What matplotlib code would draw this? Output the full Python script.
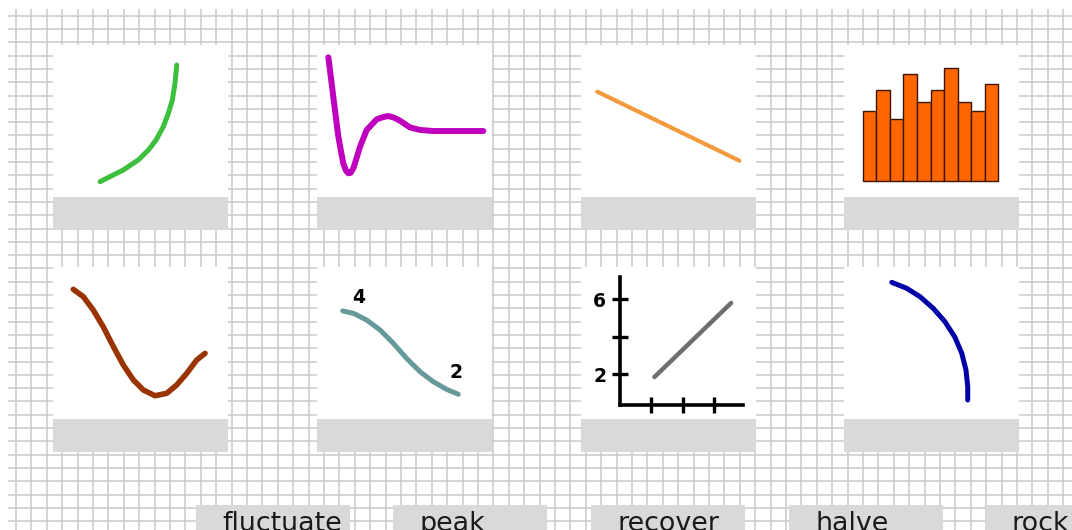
import matplotlib
matplotlib.use("Agg")
import matplotlib.pyplot as plt
import numpy as np
from matplotlib.patches import Rectangle

# ---------------- data ----------------
button_labels = ["fluctuate", "peak", "recover", "halve", "rock"]

# tile 1: green rising curve (tile units 0..10)
green_x = [2.69, 3.26, 4.02, 4.87, 5.45, 5.89, 6.30, 6.59, 6.82, 6.97, 7.07]
green_y = [1.01, 1.34, 1.78, 2.43, 3.09, 3.75, 4.62, 5.50, 6.38, 7.48, 8.68]

# tile 2: magenta damped oscillation
magenta_x = [0.65, 0.93, 1.22, 1.50, 1.66, 1.79, 1.93, 2.08, 2.46, 2.84, 3.41, 3.79,
             4.07, 4.40, 4.74, 5.31, 5.89, 6.65, 9.50]
magenta_y = [9.19, 6.60, 3.97, 2.21, 1.73, 1.56, 1.60, 1.89, 3.31, 4.41, 5.11, 5.26,
             5.33, 5.22, 5.02, 4.58, 4.41, 4.34, 4.34]

# tile 3: orange straight line
orange_x = [0.93, 9.05]
orange_y = [6.93, 2.39]

# tile 4: bar heights
bar_values = [70, 91, 62, 107, 79, 91, 113, 79, 70, 97]

# tile 5: brown dip curve
brown_x = [1.16, 1.73, 2.30, 2.87, 3.45, 4.02, 4.59, 5.16, 5.83, 6.50, 7.07, 7.64, 8.21, 8.69]
brown_y = [8.53, 8.05, 7.17, 6.07, 4.76, 3.55, 2.57, 1.91, 1.53, 1.69, 2.24, 3.00, 3.88, 4.32]

# tile 6: teal falling S-curve with end labels
teal_x = [1.47, 2.09, 2.84, 3.60, 4.36, 5.12, 5.89, 6.65, 7.41, 8.07]
teal_y = [7.11, 6.95, 6.51, 5.86, 4.98, 3.99, 3.11, 2.45, 1.95, 1.63]
teal_labels = ["4", "2"]
teal_label_x = [2.36, 7.94]
teal_label_y = [7.98, 3.05]

# tile 7: small axes with a grey line
axis_line_x = [1.1, 3.55]
axis_line_y = [1.85, 5.8]
axis_xticks = [1, 2, 3]
axis_yticks = [2, 4, 6]
axis_ytick_labels = ["2", "", "6"]

# tile 8: blue arc
blue_x = [2.73, 3.58, 4.34, 5.10, 5.77, 6.34, 6.73, 6.97, 7.07, 7.07]
blue_y = [8.99, 8.60, 8.05, 7.28, 6.40, 5.38, 4.32, 3.22, 2.13, 1.25]

# ---------------- layout ----------------
W, H = 1072, 530
fig = plt.figure(figsize=(W / 100, H / 100), dpi=100)
fig.patch.set_facecolor("white")

base = fig.add_axes([0, 0, 1, 1])
base.set_xlim(0, W)
base.set_ylim(H, 0)
base.axis("off")

GRID_C = "#c9c9c9"
GREY = "#d9d9d9"

# graph-paper background
for yy in np.arange(15.7, H, 13.3):
    base.plot([8, W], [yy, yy], color=GRID_C, lw=1.1, zorder=1, solid_capstyle="butt")
for xx in np.arange(16.0, W, 15.4):
    base.plot([xx, xx], [9, H], color=GRID_C, lw=1.1, zorder=1, solid_capstyle="butt")

tile_x = [53, 317, 581, 844]
row_top = [45, 267]
TILE_W, TILE_H, BAR_H = 175, 152, 33

for ty in row_top:
    for tx in tile_x:
        base.add_patch(Rectangle((tx, ty), TILE_W, TILE_H, facecolor="white",
                                 edgecolor="none", zorder=2))
        base.add_patch(Rectangle((tx, ty + TILE_H), TILE_W, BAR_H, facecolor=GREY,
                                 edgecolor="none", zorder=2))

# bottom buttons
btn_x = [196, 393, 591, 789, 986]
for bx, lab in zip(btn_x, button_labels):
    base.add_patch(Rectangle((bx, 505), 154, 40, facecolor=GREY, edgecolor="none", zorder=2))
    base.text(bx + 26, 531, lab, ha="left", va="baseline", fontsize=19.4,
              family="DejaVu Sans", color="#1a1a1a", zorder=3)


def box(x0, y0, w, h):
    return [x0 / W, 1 - (y0 + h) / H, w / W, h / H]


def tile_axes(col, row):
    ax = fig.add_axes(box(tile_x[col], row_top[row], TILE_W, TILE_H))
    ax.set_xlim(0, 10)
    ax.set_ylim(0, 10)
    ax.axis("off")
    ax.patch.set_alpha(0)
    return ax


def curve(ax, x, y, color, lw):
    ax.plot(x, y, color=color, lw=lw, solid_capstyle="round", solid_joinstyle="round")


curve(tile_axes(0, 0), green_x, green_y, "#3cbf3c", 3.6)
curve(tile_axes(1, 0), magenta_x, magenta_y, "#bf00bf", 4.3)
curve(tile_axes(2, 0), orange_x, orange_y, "#f39a3c", 3.0)

# bar chart tile
axb = fig.add_axes(box(862.7, 60, 135.6, 120.7))
axb.bar(range(len(bar_values)), bar_values, width=1.0, color="#ff6600",
        edgecolor="#3a1500", linewidth=1.0)
axb.set_xlim(-0.5, len(bar_values) - 0.5)
axb.set_ylim(0, 120.7)
axb.axis("off")
axb.patch.set_alpha(0)
for p in axb.patches:
    p.set_clip_on(False)

curve(tile_axes(0, 1), brown_x, brown_y, "#993300", 4.0)

ax6 = tile_axes(1, 1)
curve(ax6, teal_x, teal_y, "#669999", 3.6)
for t, lx, ly in zip(teal_labels, teal_label_x, teal_label_y):
    ax6.text(lx, ly, t, ha="center", va="center", fontsize=13.5,
             fontweight="bold", color="black", family="DejaVu Sans")

# small axes tile
ax7 = fig.add_axes(box(620, 276.7, 122.7, 128.3))
ax7.patch.set_alpha(0)
ax7.plot(axis_line_x, axis_line_y, color="#6e6e6e", lw=3.2, solid_capstyle="round")
ax7.set_xlim(0, 3.92)
ax7.set_ylim(0.36, 7.2)
for s in ["top", "right"]:
    ax7.spines[s].set_visible(False)
for s in ["left", "bottom"]:
    ax7.spines[s].set_linewidth(2.6)
    ax7.spines[s].set_color("black")
ax7.set_xticks(axis_xticks)
ax7.set_xticklabels([])
ax7.set_yticks(axis_yticks)
ax7.set_yticklabels(axis_ytick_labels, fontsize=13.5, fontweight="bold", family="DejaVu Sans")
ax7.tick_params(direction="inout", length=12, width=2.4, color="black", pad=4)

curve(tile_axes(3, 1), blue_x, blue_y, "#0000a8", 3.6)

fig.savefig("out.png", dpi=100, facecolor="white")
